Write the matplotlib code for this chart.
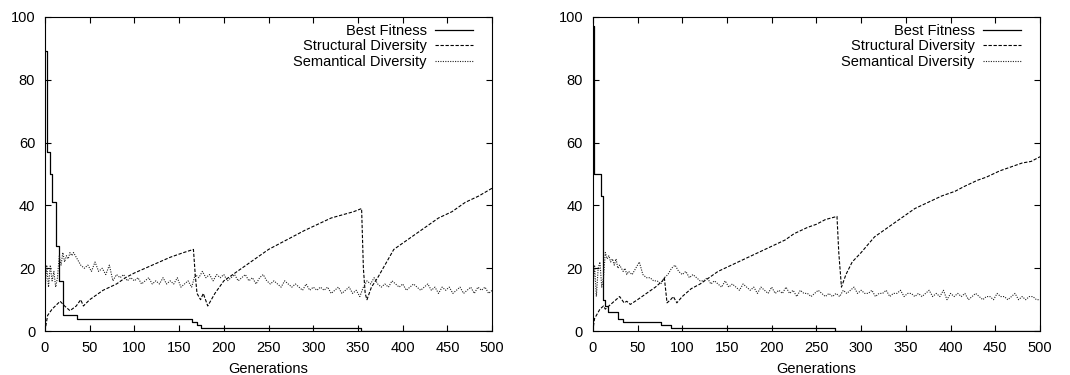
import matplotlib.pyplot as plt
import numpy as np

plt.rcParams['font.family'] = ['Liberation Sans', 'DejaVu Sans']

# ---- left run ----
fit_gen_l = [0, 2, 6, 8, 12, 16, 20, 36, 164, 170, 175, 353, 500]
fit_val_l = [89, 57, 50, 41, 27, 16, 5, 4, 3, 2, 1, 0, 0]

str_gen_l = [0, 3, 8, 17, 22, 28, 35, 40, 43, 50, 65, 80, 90, 100, 120, 140, 155, 166,
             168, 170, 174, 177, 182, 190, 200, 220, 235, 250, 270, 290, 305, 320, 345, 354,
             356, 358, 360, 365, 372, 380, 390, 405, 425, 440, 455, 470, 485, 500]
str_val_l = [0, 5, 7, 9.5, 8, 6.5, 8, 10, 8, 10, 13, 15, 17, 18.5, 21, 23.5, 25, 26,
             18, 12, 10, 12, 8, 12, 16, 20, 23, 26, 29, 32, 34, 36, 38, 39,
             20, 12, 10, 14, 17, 21, 26, 29, 33, 36, 38, 41, 43, 45.5]

sem_early_l = [12, 21, 14, 21, 16, 19, 14, 17, 24, 21, 25, 22, 24, 23, 25, 24, 25, 24, 23, 22, 21]
sem_late_l = [20, 21, 19, 22, 19, 20, 18, 21, 16, 18,
              17, 18, 16, 17, 16, 17, 15, 16, 17, 15,
              16, 15, 17, 15, 16, 15, 17, 14, 15, 16,
              14, 18, 17, 19, 17, 18, 16, 18, 17, 18,
              16, 17, 18, 16, 17, 18, 16, 17, 15, 17,
              18, 16, 15, 16, 15, 14, 16, 15, 14, 15,
              14, 13, 15, 13, 14, 13, 14, 13, 14, 12,
              13, 14, 12, 13, 14, 12, 13, 11, 14, 16,
              15, 17, 15, 14, 15, 14, 16, 15, 14, 15,
              13, 14, 15, 14, 13, 14, 15, 13, 14, 12,
              14, 13, 14, 12, 13, 14, 12, 13, 14, 12,
              14, 13, 14, 12, 13]

# ---- right run ----
fit_gen_r = [0, 1, 9, 11, 14, 17, 28, 34, 76, 87, 271, 500]
fit_val_r = [97, 50, 43, 10, 8, 6, 4, 3, 2, 1, 0, 0]

str_gen_r = [0, 2, 8, 12, 14, 18, 22, 26, 30, 35, 38, 42, 50, 60, 70, 78, 80,
             83, 87, 90, 94, 100, 110, 120, 130, 140, 155, 170, 185, 200, 215, 225, 240,
             250, 260, 273, 275, 278, 283, 290, 300, 315, 330, 340, 350, 360, 375, 390,
             405, 415, 430, 440, 455, 465, 480, 490, 500]
str_val_r = [0, 4, 7, 8, 7, 8, 9, 10, 11, 9, 9.5, 8.5, 10, 12, 14, 16, 17,
             9, 10, 11, 9, 11, 13.5, 15, 17, 19, 21, 23, 25, 27, 29, 31, 33,
             34, 35.5, 36.5, 25, 14, 18, 22, 25, 30, 33, 35, 37, 39, 41, 43,
             44.5, 46, 48, 49, 51, 52, 53.5, 54, 55.5]

sem_early_r = [12, 21, 11, 20, 22, 14, 17, 25, 23, 24, 22, 23, 21, 23, 20, 21, 20, 19, 20, 18, 19]
sem_late_r = [18, 20, 22, 18, 17, 17, 16, 16, 15, 17,
              18, 20, 21, 19, 18, 19, 17, 18, 17, 16,
              16, 17, 15, 16, 15, 14, 16, 14, 15, 14,
              13, 15, 14, 13, 14, 12, 14, 13, 12, 14,
              12, 13, 12, 14, 12, 13, 11, 13, 12, 12,
              11, 12, 13, 12, 11, 12, 11, 12, 11, 13,
              12, 13, 14, 12, 13, 12, 12, 13, 11, 12,
              12, 13, 11, 12, 12, 13, 11, 12, 12, 11,
              12, 11, 12, 13, 11, 12, 11, 13, 10, 12,
              11, 12, 11, 12, 10, 11, 12, 11, 10, 11,
              11, 10, 12, 11, 11, 10, 11, 12, 10, 11,
              10, 11, 11, 10, 10]

sem_gen = list(np.arange(0, 41, 2)) + list(np.arange(44, 501, 4))


def panel(ax, fg, fv, sg, sv, mv):
    ax.plot(fg, fv, '-', color='black', lw=0.9, drawstyle='steps-post', label='Best Fitness')
    ax.plot(sg, sv, color='black', lw=0.8, dashes=(3, 1.5), label='Structural Diversity')
    ax.plot(sem_gen, mv, color='#222222', lw=0.8, dashes=(1, 1.2), label='Semantical Diversity')
    ax.set_xlim(0, 500)
    ax.set_ylim(0, 100)
    ax.set_xticks(range(0, 501, 50))
    ax.set_yticks(range(0, 101, 20))
    ax.tick_params(direction='in', top=True, right=True, length=4, labelsize=10.5, pad=7)
    ax.set_xlabel('Generations', fontsize=10.5, labelpad=5)
    ax.legend(loc='upper right', bbox_to_anchor=(0.9645, 0.987), frameon=False,
              markerfirst=False, fontsize=10.5, handlelength=2.6, handletextpad=0.6,
              labelspacing=0.1, borderpad=0.2, borderaxespad=0.0)


fig = plt.figure(figsize=(10.7, 3.75), dpi=100)
ax1 = fig.add_axes([0.042, 0.117, 0.418, 0.838])
ax2 = fig.add_axes([0.554, 0.117, 0.418, 0.838])
panel(ax1, fit_gen_l, fit_val_l, str_gen_l, str_val_l, sem_early_l + sem_late_l)
panel(ax2, fit_gen_r, fit_val_r, str_gen_r, str_val_r, sem_early_r + sem_late_r)
fig.savefig('out.png', dpi=100)
